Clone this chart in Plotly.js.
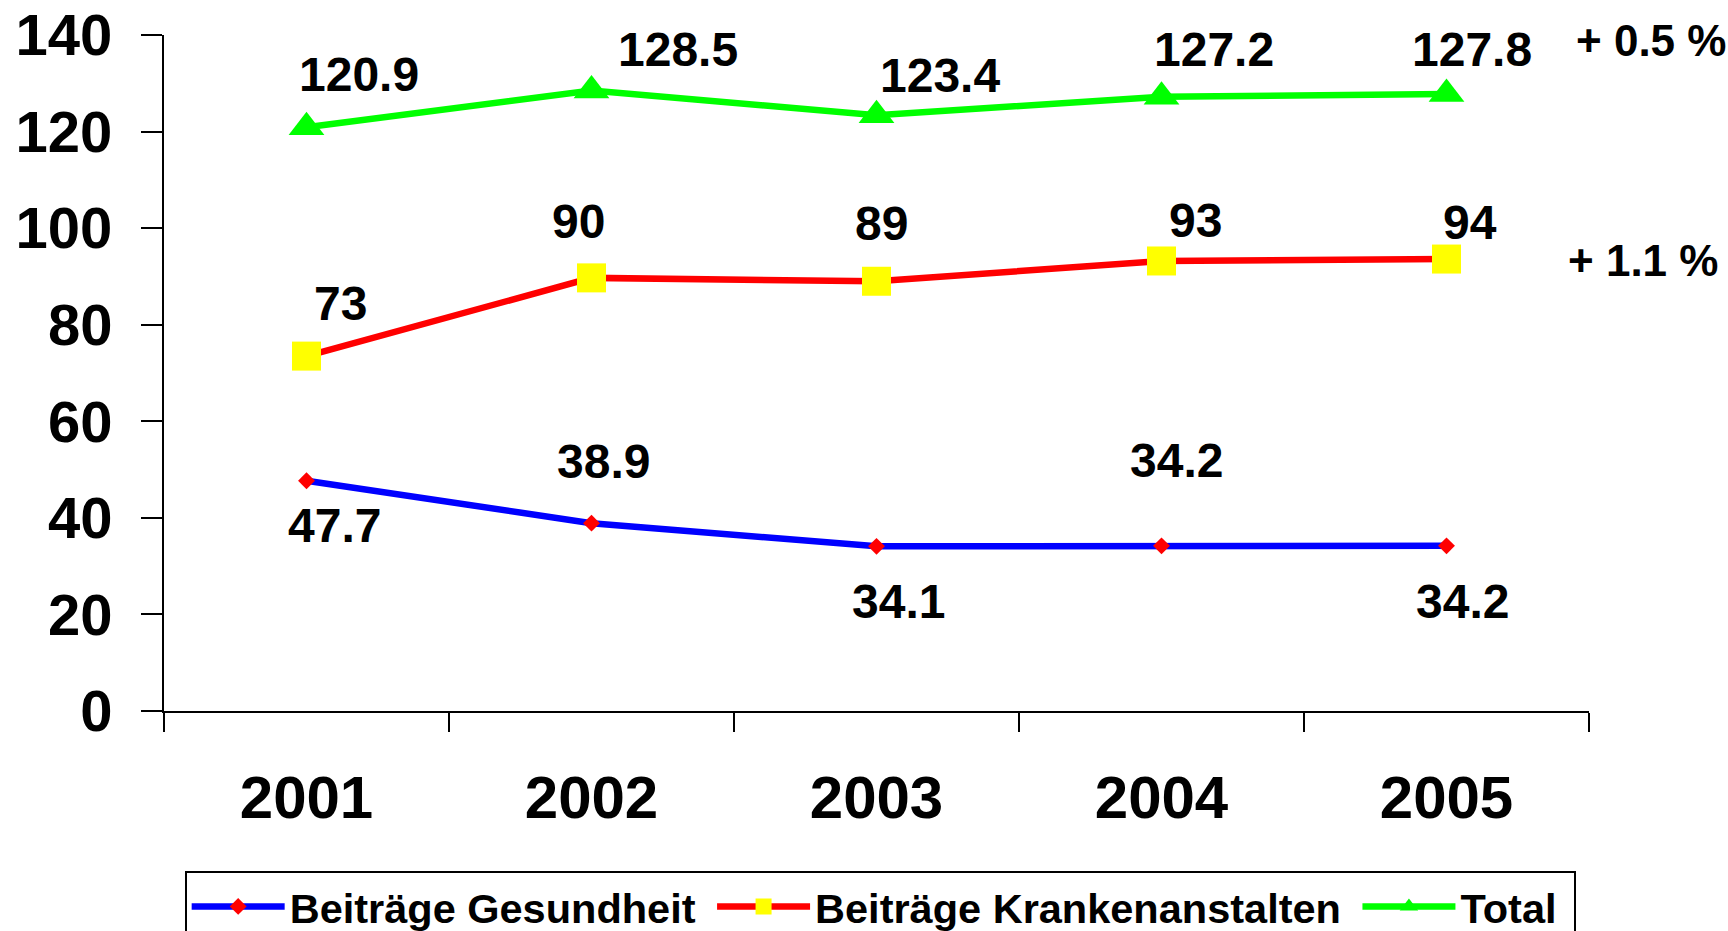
<!DOCTYPE html>
<html><head><meta charset="utf-8">
<script src="https://cdn.plot.ly/plotly-3.0.1.min.js"></script>
<style>html,body{margin:0;padding:0;background:#fff;} #chart{width:1728px;height:931px;}</style>
</head><body><div id="chart"></div>
<script>
// ---- data ----
const years = ['2001','2002','2003','2004','2005'];
const gesundheit = [47.7, 38.9, 34.1, 34.2, 34.2];
const krankenanstalten = [73.5, 89.7, 89.0, 93.2, 93.6];
const total = [120.9, 128.5, 123.4, 127.2, 127.8];
const gesundheitLabels = ['47.7','38.9','34.1','34.2','34.2'];
const krankenLabels = ['73','90','89','93','94'];
const totalLabels = ['120.9','128.5','123.4','127.2','127.8'];
const seriesNames = ['Beiträge Gesundheit','Beiträge Krankenanstalten','Total'];
const growthLabels = ['+ 0.5 %', '+ 1.1 %'];
const yTicks = [0,20,40,60,80,100,120,140];

// ---- label placement (pixel offsets from the point) ----
const totalShift = [[52,53],[86,41],[63,40],[52,47],[25,44]];
const krankenShift = [[34,53],[-13,56],[5,58],[34,40],[23,37]];
const gesundShift = [[28,-45],[12,62],[22,-55],[15,85],[16,-56]];
const legendPad = '\u00a0';

const FONT = 'Liberation Sans, Arial, Helvetica, sans-serif';

const traces = [
  {x: years, y: gesundheit, name: seriesNames[0] + legendPad, type: 'scatter', mode: 'lines+markers',
   line: {color: '#0000FF', width: 6.5}, marker: {symbol: 'diamond', size: 13, color: '#FF0000', line: {width: 0}}},
  {x: years, y: krankenanstalten, name: seriesNames[1] + legendPad, type: 'scatter', mode: 'lines+markers',
   line: {color: '#FF0000', width: 6.5}, marker: {symbol: 'square', size: 29, color: '#FFFF00', line: {width: 0}}},
  {x: years, y: total, name: seriesNames[2] + legendPad, type: 'scatter', mode: 'lines+markers',
   line: {color: '#00FF00', width: 6.5}, marker: {symbol: 'triangle-up', size: 31, color: '#00FF00', line: {width: 0}}}
];

const annotations = [];
function addLabels(vals, labels, shifts) {
  vals.forEach((v, i) => {
    annotations.push({x: i, y: v, xref: 'x', yref: 'y', text: labels[i], showarrow: false,
      xanchor: 'center', yanchor: 'middle', xshift: shifts[i][0], yshift: shifts[i][1],
      font: {family: FONT, size: 48, weight: 'bold', color: '#000'}});
  });
}
addLabels(total, totalLabels, totalShift);
addLabels(krankenanstalten, krankenLabels, krankenShift);
addLabels(gesundheit, gesundheitLabels, gesundShift);
annotations.push({x: 1.0437, y: 0.9914, xref: 'paper', yref: 'paper', text: growthLabels[0], showarrow: false,
  xanchor: 'center', yanchor: 'middle', font: {family: FONT, size: 44, weight: 'bold', color: '#000'}});
annotations.push({x: 1.0381, y: 0.666, xref: 'paper', yref: 'paper', text: growthLabels[1], showarrow: false,
  xanchor: 'center', yanchor: 'middle', font: {family: FONT, size: 44, weight: 'bold', color: '#000'}});

const layout = {
  width: 1728, height: 931,
  margin: {l: 164, r: 139, t: 35, b: 220, pad: 0, autoexpand: false},
  paper_bgcolor: '#fff', plot_bgcolor: '#fff',
  font: {family: FONT, color: '#000'},
  showlegend: true,
  legend: {orientation: 'h', x: 0.0145, y: -0.2366, xanchor: 'left', yanchor: 'top',
    bordercolor: '#000', borderwidth: 2, bgcolor: '#fff', itemwidth: 93,
    font: {family: FONT, size: 41.5, weight: 'bold', color: '#000'}},
  xaxis: {type: 'category', range: [-0.5, 4.5], tickson: 'boundaries', ticks: 'outside', ticklen: 19,
    tickwidth: 2, tickcolor: '#000', showline: true, linewidth: 2, linecolor: '#000', showgrid: false,
    zeroline: false, ticklabelstandoff: 33,
    tickfont: {family: FONT, size: 60, weight: 'bold', color: '#000'}, fixedrange: true},
  yaxis: {range: [0, 140], tickmode: 'array', tickvals: yTicks, ticktext: yTicks.map(String),
    ticks: 'outside', ticklen: 21, tickwidth: 2, tickcolor: '#000', showline: true, linewidth: 2,
    linecolor: '#000', showgrid: false, zeroline: false, ticklabelstandoff: 17,
    tickfont: {family: FONT, size: 58, weight: 'bold', color: '#000'}, fixedrange: true},
  annotations: annotations
};

Plotly.newPlot('chart', traces, layout, {displayModeBar: false, staticPlot: true});
</script>
</body></html>
